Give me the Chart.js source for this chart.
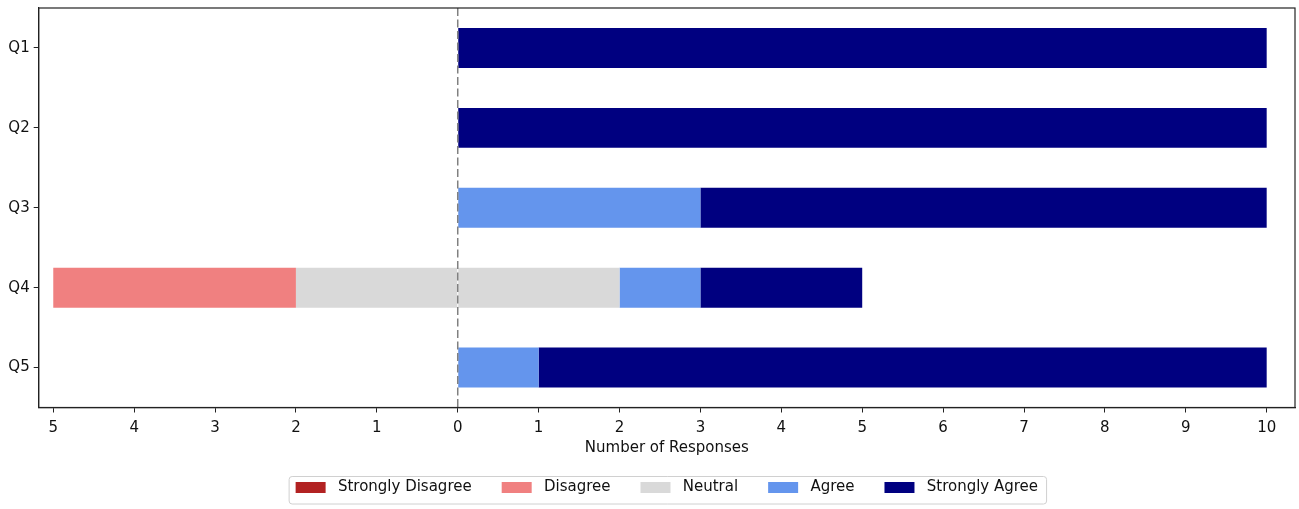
<!DOCTYPE html>
<html>
<head>
<meta charset="utf-8">
<title>Survey Responses</title>
<script src="https://cdn.jsdelivr.net/npm/chart.js@4.4.1/dist/chart.umd.min.js"></script>
<style>
    html, body { margin: 0; padding: 0; background: #ffffff; }
    #wrap { width: 1299px; height: 509px; position: relative; }
</style>
</head>
<body>
<div id="wrap"><canvas id="likertChart"></canvas></div>
<script>
// Data
const questions = ['Q1', 'Q2', 'Q3', 'Q4', 'Q5'];
const stronglyDisagree = [0, 0, 0, 0, 0];
const disagree = [0, 0, 0, 3, 0];
const neutral = [0, 0, 0, 4, 0];
const agree = [0, 0, 3, 1, 1];
const stronglyAgree = [10, 10, 7, 2, 9];
const xTicks = [-5, -4, -3, -2, -1, 0, 1, 2, 3, 4, 5, 6, 7, 8, 9, 10];
const legendOrder = ['Strongly Disagree', 'Disagree', 'Neutral', 'Agree', 'Strongly Agree'];

const colors = {
    'Strongly Disagree': '#b22222',
    'Disagree': '#f08080',
    'Neutral': '#d9d9d9',
    'Agree': '#6495ed',
    'Strongly Agree': '#000080'
};

const fontFamily = '"DejaVu Sans", sans-serif';
const fontSize = 15;

function bar(label, values, extra) {
    return Object.assign({
        label: label,
        data: values,
        backgroundColor: colors[label],
        borderWidth: 0,
        barPercentage: 0.5,
        categoryPercentage: 1.0
    }, extra || {});
}

// negative side stacks outward from zero, so neutral half goes first
const datasets = [
    bar('Neutral', neutral.map(v => -v / 2)),
    bar('Disagree', disagree.map(v => -v)),
    bar('Strongly Disagree', stronglyDisagree.map(v => -v)),
    bar('Neutral', neutral.map(v => v / 2), { legendHidden: true }),
    bar('Agree', agree),
    bar('Strongly Agree', stronglyAgree)
];

// frame, zero line and legend box
const extras = {
    id: 'extras',
    afterDatasetsDraw(chart) {
        const { ctx, chartArea, scales } = chart;
        const x0 = scales.x.getPixelForValue(0);
        ctx.save();
        ctx.strokeStyle = '#808080';
        ctx.lineWidth = 1.5;
        ctx.setLineDash([8, 3.5]);
        ctx.beginPath();
        ctx.moveTo(x0, chartArea.top);
        ctx.lineTo(x0, chartArea.bottom);
        ctx.stroke();
        ctx.setLineDash([]);
        ctx.strokeStyle = '#222';
        ctx.lineWidth = 1.2;
        ctx.strokeRect(chartArea.left, chartArea.top, chartArea.right - chartArea.left, chartArea.bottom - chartArea.top);
        ctx.restore();
    },
    afterDraw(chart) {
        const boxes = chart.legend.legendHitBoxes;
        if (!boxes || !boxes.length) return;
        const { ctx } = chart;
        let left = Infinity, right = -Infinity, mid = 0;
        boxes.forEach(b => {
            left = Math.min(left, b.left);
            right = Math.max(right, b.left + b.width);
            mid = b.top + b.height / 2;
        });
        ctx.save();
        ctx.strokeStyle = '#d0d0d0';
        ctx.lineWidth = 1;
        ctx.beginPath();
        ctx.roundRect(left - 6.5, mid - 11, right - left + 15, 27.5, 3);
        ctx.stroke();
        ctx.restore();
    }
};

const ctx = document.getElementById('likertChart').getContext('2d');
new Chart(ctx, {
    type: 'bar',
    data: { labels: questions, datasets: datasets },
    plugins: [extras],
    options: {
        indexAxis: 'y',
        responsive: true,
        maintainAspectRatio: false,
        animation: false,
        devicePixelRatio: 1,
        layout: { padding: { top: 8, right: 4, bottom: 4, left: 0 } },
        plugins: {
            tooltip: { enabled: false },
            legend: {
                position: 'bottom',
                fullSize: false,
                labels: {
                    boxWidth: 30,
                    boxHeight: 11,
                    padding: 30,
                    color: '#111',
                    font: { family: fontFamily, size: fontSize },
                    filter: (item, data) => !data.datasets[item.datasetIndex].legendHidden,
                    sort: (a, b) => legendOrder.indexOf(a.text.trim()) - legendOrder.indexOf(b.text.trim()),
                    generateLabels: chart => Chart.defaults.plugins.legend.labels.generateLabels(chart)
                        .map(item => Object.assign(item, { text: ' ' + item.text }))
                }
            }
        },
        scales: {
            x: {
                stacked: true,
                min: -5.18,
                max: 10.35,
                afterBuildTicks: scale => { scale.ticks = xTicks.map(v => ({ value: v })); },
                afterFit: scale => { scale.height = 42.5; },
                grid: { drawOnChartArea: false, drawTicks: true, tickLength: 5, color: '#222' },
                border: { color: '#222', width: 1.2 },
                ticks: {
                    color: '#111',
                    padding: 7,
                    maxRotation: 0,
                    font: { family: fontFamily, size: fontSize },
                    callback: value => Math.abs(value)
                },
                title: {
                    display: true,
                    text: 'Number of Responses',
                    color: '#111',
                    font: { family: fontFamily, size: fontSize, lineHeight: 1 },
                    padding: { top: 0, bottom: -5.5 }
                }
            },
            y: {
                stacked: true,
                afterFit: scale => {
                    scale.width = 38.7;
                    scale.paddingTop = 0;
                    scale.paddingBottom = 0;
                },
                grid: { offset: false, drawOnChartArea: false, drawTicks: true, tickLength: 5, color: '#222' },
                border: { color: '#222', width: 1.2 },
                ticks: {
                    color: '#111',
                    padding: 4,
                    font: { family: fontFamily, size: fontSize }
                }
            }
        }
    }
});
</script>
</body>
</html>
